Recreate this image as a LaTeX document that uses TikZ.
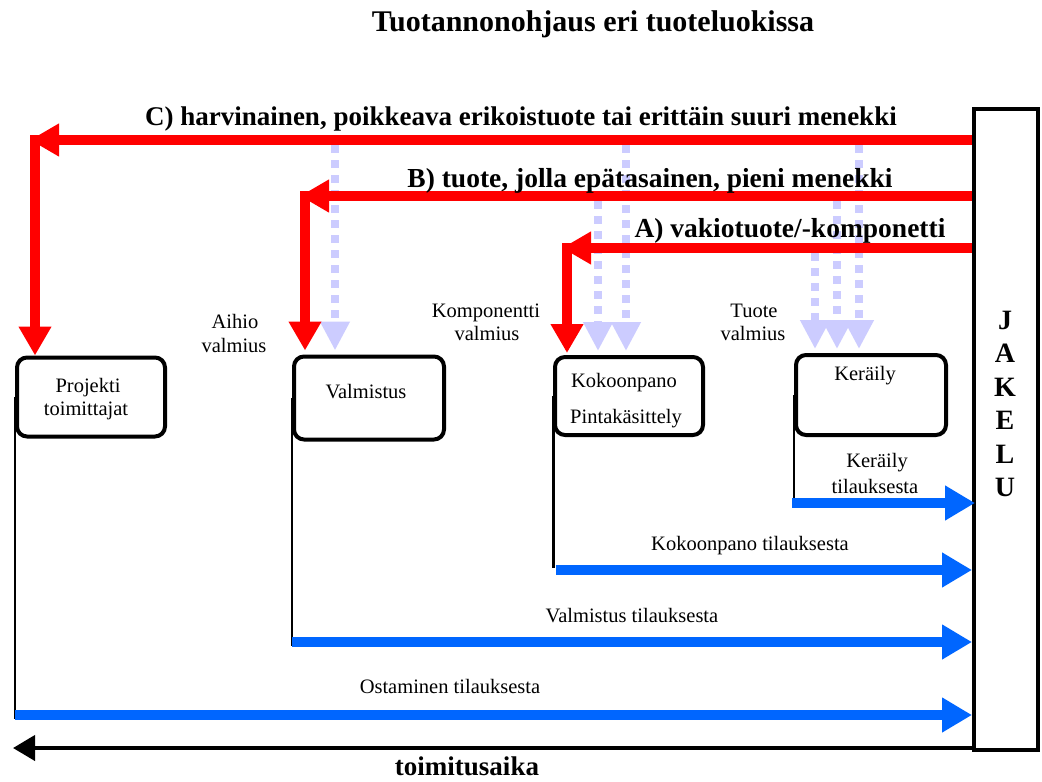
\documentclass[tikz,border=0pt]{standalone}
\usepackage{fontspec}
\setmainfont{Liberation Serif}
\usetikzlibrary{arrows.meta}
\definecolor{cred}{RGB}{255,0,0}
\definecolor{cblue}{RGB}{0,102,255}
\definecolor{clav}{RGB}{204,204,255}
\begin{document}
\begin{tikzpicture}[x=1pt,y=-1pt,
  box/.style={draw=black,line width=4pt,rounded corners=10pt,inner sep=0pt},
  lbl/.style={font=\fontsize{20.5}{24}\selectfont,inner sep=0pt,anchor=base},
  big/.style={font=\fontsize{27}{30}\selectfont\bfseries,inner sep=0pt,anchor=base},
  redarr/.style={draw=cred,line width=10pt,-{Triangle[length=29pt,width=31pt]}},
  bluearr/.style={draw=cblue,line width=10pt,-{Triangle[length=30pt,width=33pt]}},
  lavarr/.style={draw=clav,line width=8pt,dash pattern=on 8pt off 7pt,-{Triangle[length=29pt,width=28pt]}},
  thinline/.style={draw=black,line width=2pt},
]
\useasboundingbox (0,0) rectangle (1042,782);
\fill[white] (0,0) rectangle (1042,782);

% boxes
\node[box,minimum width=148pt,minimum height=79pt] (proj) at (91,397) {};
\node[box,minimum width=150pt,minimum height=83pt] (valm) at (369,398) {};
\node[box,minimum width=148pt,minimum height=78pt] (koko) at (629,396) {};
\node[box,minimum width=150pt,minimum height=80pt] (kera) at (871,395) {};
\node[draw=black,line width=4pt,minimum width=64pt,minimum height=641pt,inner sep=0pt] (jakelu) at (1006,429.5) {};

% level coordinates
\coordinate (yC) at (0,140);
\coordinate (yB) at (0,196);
\coordinate (yA) at (0,248);
\coordinate (yCe) at (0,145);
\coordinate (yBe) at (0,201);
\coordinate (yAe) at (0,253);
\coordinate (cC) at (35,140);
\coordinate (cB) at (305,196);
\coordinate (cA) at (567,248);
\coordinate (tC) at (30,140);
\coordinate (tB) at (300,196);
\coordinate (tA) at (562,248);
\coordinate (x1) at (335,0);
\coordinate (x2) at (598,0);
\coordinate (x3) at (626,0);
\coordinate (x4) at (815,0);
\coordinate (x5) at (837,0);
\coordinate (x6) at (859,0);

% lavender dashed arrows
\draw[lavarr] (x1 |- yCe) -- ([yshift=4pt]x1 |- valm.north);
\draw[lavarr] (x2 |- yBe) -- ([yshift=4pt]x2 |- koko.north);
\draw[lavarr] (x3 |- yCe) -- ([yshift=4pt]x3 |- koko.north);
\draw[lavarr] (x4 |- yAe) -- ([yshift=4pt]x4 |- kera.north);
\draw[lavarr] (x5 |- yBe) -- ([yshift=4pt]x5 |- kera.north);
\draw[lavarr] (x6 |- yCe) -- ([yshift=4pt]x6 |- kera.north);

% red arrows
\draw[redarr] (jakelu.west |- yC) -- (tC);
\draw[redarr] ([yshift=5pt]cC) -- (cC |- proj.north);
\draw[redarr] (jakelu.west |- yB) -- (tB);
\draw[redarr] ([yshift=5pt]cB) -- ([yshift=4pt]cB |- valm.north);
\draw[redarr] (jakelu.west |- yA) -- (tA);
\draw[redarr] ([yshift=5pt]cA) -- ([yshift=2pt]cA |- koko.north);

% order lines
\coordinate (yO) at (0,715);
\coordinate (yV) at (0,642);
\coordinate (yK) at (0,570);
\coordinate (yR) at (0,503);
\coordinate (yOb) at (0,719);
\coordinate (yVb) at (0,646);
\coordinate (yKb) at (0,568);
\coordinate (yRb) at (0,498);
\draw[thinline] (proj.west) -- (proj.west |- yOb);
\draw[thinline] (valm.west) -- (valm.west |- yVb);
\draw[thinline,line width=3pt] (koko.west) -- (koko.west |- yKb);
\draw[thinline] (kera.west) -- (kera.west |- yRb);
\draw[bluearr] (proj.west |- yO) -- (jakelu.west |- yO);
\draw[bluearr] (valm.west |- yV) -- (jakelu.west |- yV);
\draw[bluearr] ([xshift=3pt]koko.west |- yK) -- (jakelu.west |- yK);
\draw[bluearr] ([xshift=-2pt]kera.west |- yR) -- ([xshift=3pt]jakelu.west |- yR);

% time axis
\coordinate (yT) at (0,748);
\coordinate (tT) at (13,748);
\draw[draw=black,line width=4pt,-{Triangle[length=22pt,width=25pt]}] (jakelu.west |- yT) -- (tT);

% texts
\node[big,font=\fontsize{30}{32}\selectfont\bfseries] (title) at (593,31) {Tuotannonohjaus eri tuoteluokissa};
\node[big] (labC) at (521,125) {C) harvinainen, poikkeava erikoistuote tai erittäin suuri menekki};
\node[big,font=\fontsize{27.5}{30}\selectfont\bfseries] (labB) at (650,187) {B) tuote, jolla epätasainen, pieni menekki};
\node[big,font=\fontsize{27.5}{30}\selectfont\bfseries] (labA) at (790,237) {A) vakiotuote/-komponetti};
\node[big] (laika) at (467,775) {toimitusaika};

\node[lbl] (tP1) at (88,392) {Projekti};
\node[lbl] (tP2) at (86,415) {toimittajat};
\node[lbl] (tV) at (366,398) {Valmistus};
\node[lbl] (tK1) at (624,387) {Kokoonpano};
\node[lbl] (tK2) at (626,423) {Pintakäsittely};
\node[lbl] (tR) at (865,380) {Keräily};

\node[lbl] (tAh1) at (235,328) {Aihio};
\node[lbl] (tAh2) at (234,352) {valmius};
\node[lbl] (tKo1) at (486,317) {Komponentti};
\node[lbl] (tKo2) at (487,340) {valmius};
\node[lbl] (tTu1) at (754,317) {Tuote};
\node[lbl] (tTu2) at (753,340) {valmius};

\node[lbl] (tRt1) at (877,467) {Keräily};
\node[lbl] (tRt2) at (875,493) {tilauksesta};
\node[lbl] (tKt) at (750,550) {Kokoonpano tilauksesta};
\node[lbl] (tVt) at (632,622) {Valmistus tilauksesta};
\node[lbl] (tOt) at (450,693) {Ostaminen tilauksesta};

\node[font=\fontsize{28}{33.4}\selectfont\bfseries,inner sep=0pt,align=center,anchor=north] (jtxt) at (1005,311) {J\\A\\K\\E\\L\\U};
\end{tikzpicture}
\end{document}
